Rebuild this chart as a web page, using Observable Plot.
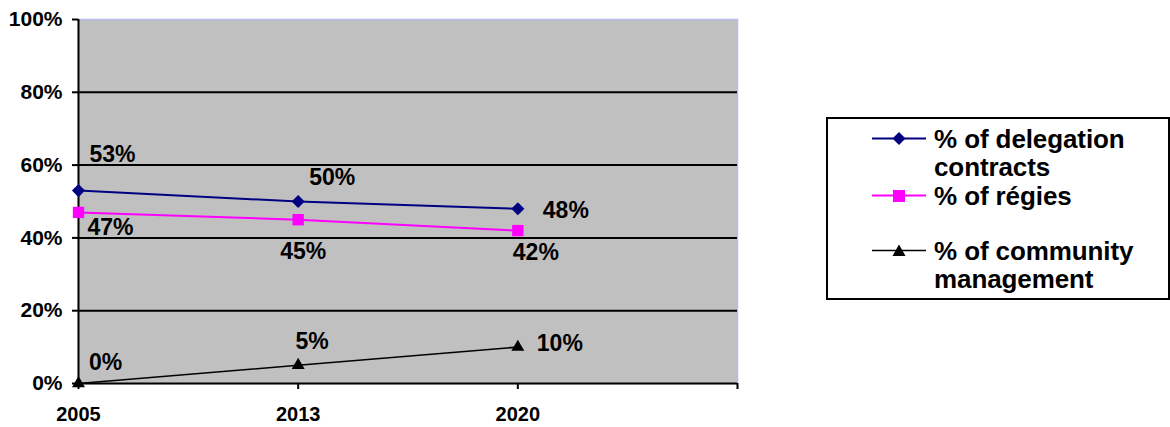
<!DOCTYPE html>
<html>
<head>
<meta charset="utf-8">
<script src="https://cdn.jsdelivr.net/npm/d3@7"></script>
<script src="https://cdn.jsdelivr.net/npm/@observablehq/plot@0.6"></script>
<style>
  body { margin: 0; background: #fff; }
  #wrap { position: relative; width: 1170px; height: 427px; font-family: "Liberation Sans", Arial, sans-serif; }
  #legend { position: absolute; left: 826px; top: 117px; width: 340px; height: 179px;
            border: 2px solid #000; background: #fff; }
  .entry { position: absolute; left: 44px; display: flex; align-items: flex-start; }
  .entry svg { flex: none; }
  .entry span { font-weight: bold; font-size: 26px; line-height: 28px; color: #000; letter-spacing: -0.1px; white-space: nowrap; }
</style>
</head>
<body>
<div id="wrap"></div>
<script>
// Share of water service management modes, 2005 – 2020
const years = ["2005", "2013", "2020"];
const seriesNames = ["% of delegation contracts", "% of régies", "% of community management"];
const delegation = [53, 50, 48];
const regies = [47, 45, 42];
const community = [0, 5, 10];
const yTicks = [0, 20, 40, 60, 80, 100];

const seriesColors = ["#000080", "#ff00ff", "#000000"];
const seriesSymbols = ["diamond2", "square", "triangle"];
const seriesR = [5.9, 6.4, 4.8];
const seriesWidth = [2, 2, 1.6];

// where each value label sits relative to its point [dx, dy]
const labelOffsets = [
  [[34, -36], [34, -24], [48, 2]],
  [[32, 15], [5, 32], [18, 22]],
  [[27, -21], [14, -24], [42, -3]]
];

const values = [delegation, regies, community];
const rows = values.flatMap((vals, s) =>
  vals.map((v, i) => ({series: seriesNames[s], s, i, value: v}))
);

const labelMarks = rows.map(d =>
  Plot.text([d], {
    x: "i", y: "value", text: r => r.value + "%",
    dx: labelOffsets[d.s][d.i][0], dy: labelOffsets[d.s][d.i][1],
    fontSize: 23, fontWeight: "bold", fill: "#000", lineAnchor: "middle"
  })
);

const chart = Plot.plot({
  width: 1170,
  height: 427,
  marginLeft: 78,
  marginRight: 433,
  marginTop: 19,
  marginBottom: 44,
  style: {fontFamily: "Liberation Sans, Arial, sans-serif", background: "transparent"},
  x: {type: "linear", domain: [0, 3], axis: null},
  y: {domain: [0, 100], axis: null},
  marks: [
    Plot.frame({fill: "#c0c0c0", stroke: "#b8b8f4", strokeWidth: 1.5}),
    Plot.ruleY(yTicks.filter(t => t > 0 && t < 100), {stroke: "#000", strokeWidth: 2}),
    // axes
    Plot.ruleX([0], {stroke: "#000", strokeWidth: 2}),
    Plot.ruleY([0], {stroke: "#000", strokeWidth: 2}),
    Plot.axisY({ticks: yTicks, tickSize: 6, tickPadding: 10, tickFormat: d => d + "%", label: null,
      fontSize: 21, fontWeight: "bold", strokeWidth: 2, color: "#000"}),
    Plot.axisX({ticks: [0, 1, 2, 3], tickSize: 6, tickPadding: 17, strokeWidth: 2, label: null,
      tickFormat: i => years[i] ?? "", fontSize: 20, fontWeight: "bold", color: "#000"}),
    // series
    ...values.map((vals, s) =>
      Plot.line(rows.filter(r => r.s === s), {x: "i", y: "value", stroke: seriesColors[s], strokeWidth: seriesWidth[s]})
    ),
    ...values.map((vals, s) =>
      Plot.dot(rows.filter(r => r.s === s), {x: "i", y: "value", symbol: () => seriesSymbols[s],
        r: seriesR[s], fill: seriesColors[s], stroke: "none"})
    ),
    ...labelMarks
  ]
});

const wrap = document.getElementById("wrap");
wrap.appendChild(chart);

// legend
const legend = document.createElement("div");
legend.id = "legend";
const entryTops = [6, 63, 118];
const symbolPaths = {
  diamond2: "M27,3 L33.5,9.5 L27,16 L20.5,9.5 Z",
  square: "M21,4 L33,4 L33,16 L21,16 Z",
  triangle: "M27,3.5 L33.5,15 L20.5,15 Z"
};
seriesNames.forEach((name, s) => {
  const e = document.createElement("div");
  e.className = "entry";
  e.style.top = entryTops[s] + "px";
  const lines = s === 0 ? ["% of delegation", "contracts"] : s === 2 ? ["% of community", "management"] : ["% of régies"];
  e.innerHTML =
    `<svg width="62" height="28" viewBox="0 -4 54 28" style="width:54px;height:28px;margin-right:8px">
       <line x1="0" x2="54" y1="9.5" y2="9.5" stroke="${seriesColors[s]}" stroke-width="${seriesWidth[s]}"/>
       <path d="${symbolPaths[seriesSymbols[s]]}" fill="${seriesColors[s]}"/>
     </svg>
     <span>${lines.join("<br>")}</span>`;
  legend.appendChild(e);
});
wrap.appendChild(legend);
</script>
</body>
</html>
